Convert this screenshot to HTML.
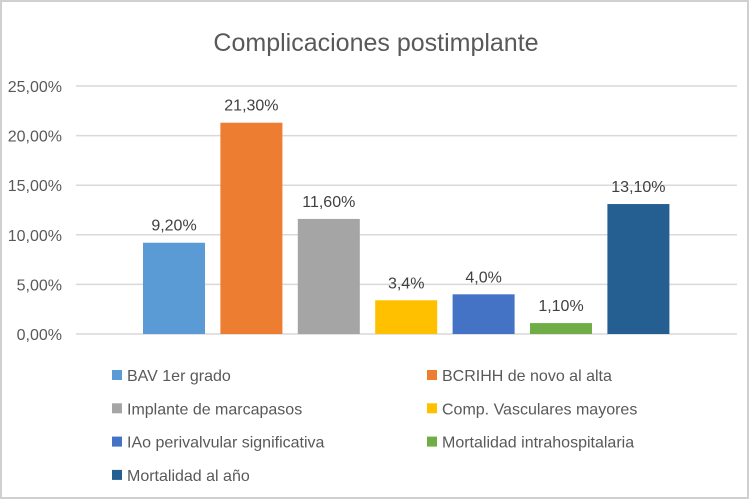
<!DOCTYPE html>
<html><head><meta charset="utf-8"><style>
body{margin:0;background:#fff}
svg{display:block;font-family:"Liberation Sans",sans-serif}
</style></head><body>
<svg id="c" width="750" height="500">
<rect x="1" y="1" width="747" height="497" fill="#fff" stroke="#d0d0d0" stroke-width="2"/>
<text x="376" y="51" text-anchor="middle" font-size="25" fill="#595959">Complicaciones postimplante</text>
<g id="grid"></g><g id="bars"></g><g id="legend"></g>
</svg>
<script>
const categories=["BAV 1er grado","BCRIHH de novo al alta","Implante de marcapasos","Comp. Vasculares mayores","IAo perivalvular significativa","Mortalidad intrahospitalaria","Mortalidad al año"];
const values=[9.2,21.3,11.6,3.4,4.0,1.1,13.1];
const valueLabels=["9,20%","21,30%","11,60%","3,4%","4,0%","1,10%","13,10%"];
const colors=["#5b9bd5","#ed7d31","#a5a5a5","#ffc000","#4472c4","#70ad47","#255e91"];
const ticks=[0,5,10,15,20,25];
const tickLabels=["0,00%","5,00%","10,00%","15,00%","20,00%","25,00%"];
const NS="http://www.w3.org/2000/svg";
const y0=334,y1=86,ymax=25;
const y=v=>y0-(v/ymax)*(y0-y1);
const step=77.4,start=135.3,bw=62;
const x=i=>start+i*step;
function mk(t,a,p){const e=document.createElementNS(NS,t);for(const k in a)e.setAttribute(k,a[k]);p.appendChild(e);return e;}
const g=document.getElementById('grid');
ticks.forEach((t,i)=>{
 const l=mk('line',{x1:76,x2:737,y1:y(t),y2:y(t),stroke:'#d9d9d9','stroke-width':1.5},g);
 
 
 const tx=mk('text',{x:62,y:y(t)+6,'text-anchor':'end','font-size':16,fill:'#595959'},g);
 tx.textContent=tickLabels[i];
 
 
});
const b=document.getElementById('bars');
values.forEach((v,i)=>{
 const cx=x(i)+step/2;
 const r=mk('rect',{x:cx-bw/2,y:y(v),width:bw,height:y0-y(v),fill:colors[i]},b);
 
 
 const t=mk('text',{x:cx,y:y(v)-12,'text-anchor':'middle','font-size':16,fill:'#404040'},b);
 t.textContent=valueLabels[i];
 
 
});
const lg=document.getElementById('legend');
categories.forEach((c,i)=>{
 const col=i%2,row=Math.floor(i/2);
 const lx=col?427:112,ly=375+row*33.3;
 const r=mk('rect',{x:lx,y:ly-5,width:10,height:10,fill:colors[i]},lg);
 
 
 const t=mk('text',{x:lx+15,y:ly+6,'font-size':16,fill:'#595959'},lg);
 t.textContent=c;
 
 
});
</script>
</body></html>
